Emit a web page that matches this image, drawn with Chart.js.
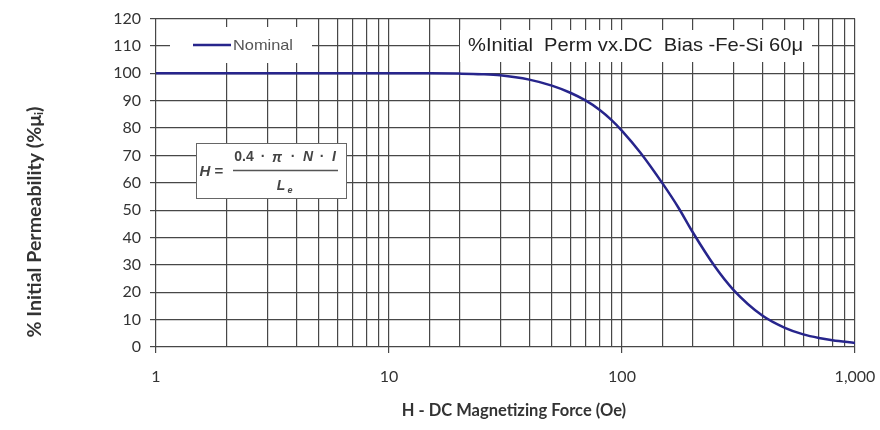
<!DOCTYPE html>
<html>
<head>
<meta charset="utf-8">
<script src="https://cdn.jsdelivr.net/npm/chart.js@4.4.0/dist/chart.umd.min.js"></script>
<style>
  html, body { margin: 0; padding: 0; background: #fff; }
  #wrap { width: 880px; height: 430px; }
</style>
</head>
<body>
<div id="wrap"><canvas id="permChart" width="880" height="430"></canvas></div>
<script>
// H (Oe) and % initial permeability
const fieldOe = [1, 2, 3, 5, 7, 10, 15, 20, 25, 30, 40, 50, 60, 70, 80, 90, 100, 120, 150, 175, 200, 250, 300, 400, 500, 600, 700, 800, 1000];
const permPct = [100, 100, 100, 100, 100, 100, 100, 99.9, 99.7, 99.3, 97.7, 95.5, 92.9, 90, 86.7, 83, 79, 71, 59.5, 50.8, 42.3, 29.5, 21, 11.5, 7, 4.6, 3.3, 2.5, 1.5];
const seriesName = 'Nominal';
const chartTitle = '%Initial  Perm vx.DC  Bias -Fe-Si 60\u03bc';
const xTitle = 'H - DC Magnetizing Force (Oe)';
const yTitle = '% Initial Permeability (%\u03bc';
const yTicks = [0, 10, 20, 30, 40, 50, 60, 70, 80, 90, 100, 110, 120];

const GRID = '#474747';
const LINE = '#27258c';
const TICK_FONT = { family: 'Lato', size: 16 };

function isDecade(v) {
    const l = Math.log10(v);
    return Math.abs(l - Math.round(l)) < 1e-9;
}

// draw text stretched to a given width
function fitText(ctx, text, x, y, width) {
    const w = ctx.measureText(text).width;
    ctx.save();
    ctx.translate(x, y);
    ctx.scale(width / w, 1);
    ctx.fillText(text, 0, 0);
    ctx.restore();
}

const overlays = {
    id: 'overlays',
    afterDatasetsDraw(chart) {
        const ctx = chart.ctx;
        ctx.save();
        ctx.textBaseline = 'middle';
        ctx.textAlign = 'left';

        // legend box
        ctx.fillStyle = '#fff';
        ctx.fillRect(170, 27, 142, 36);
        ctx.strokeStyle = chart.data.datasets[0].borderColor;
        ctx.lineWidth = 2.5;
        ctx.beginPath();
        ctx.moveTo(193, 45);
        ctx.lineTo(231, 45);
        ctx.stroke();
        ctx.fillStyle = '#555';
        ctx.font = '15px "Liberation Sans", Arial, sans-serif';
        fitText(ctx, chart.data.datasets[0].label, 233, 46, 60);

        // title box
        ctx.fillStyle = '#fff';
        ctx.fillRect(460, 30, 352, 32);
        ctx.fillStyle = '#222';
        ctx.font = '19px "Liberation Sans", Arial, sans-serif';
        fitText(ctx, chartTitle, 468, 46, 335);

        // formula box
        ctx.fillStyle = '#fff';
        ctx.fillRect(196, 143, 150, 55);
        ctx.strokeStyle = '#666';
        ctx.lineWidth = 1;
        ctx.strokeRect(196.5, 143.5, 150, 55);
        ctx.fillStyle = '#444';
        ctx.textAlign = 'center';
        ctx.font = 'italic bold 15px "Liberation Sans", Arial, sans-serif';
        ctx.fillText('H', 205, 172);
        ctx.font = 'bold 15px "Liberation Sans", Arial, sans-serif';
        ctx.fillText('=', 219, 172);
        ctx.strokeStyle = '#555';
        ctx.lineWidth = 1.5;
        ctx.beginPath();
        ctx.moveTo(233, 170.5);
        ctx.lineTo(338, 170.5);
        ctx.stroke();
        ctx.font = 'bold 14px "Liberation Sans", Arial, sans-serif';
        ctx.fillText('0.4', 244, 157);
        ctx.fillText('\u00b7', 263, 157);
        ctx.fillText('\u00b7', 293, 157);
        ctx.fillText('\u00b7', 322, 157);
        ctx.font = 'italic bold 14px "Liberation Sans", Arial, sans-serif';
        ctx.fillText('\u03c0', 277, 158);
        ctx.fillText('N', 308, 157);
        ctx.fillText('I', 334, 157);
        ctx.fillText('L', 281, 186);
        ctx.font = 'italic bold 9px "Liberation Sans", Arial, sans-serif';
        ctx.fillText('e', 290, 191);

        // axis titles
        ctx.fillStyle = '#333';
        ctx.font = 'bold 16.5px Lato, sans-serif';
        ctx.textAlign = 'center';
        ctx.fillText(xTitle, 514, 411);

        ctx.translate(35, 222);
        ctx.rotate(-Math.PI / 2);
        ctx.textAlign = 'left';
        const target = 235;
        ctx.font = 'bold 16px Lato, sans-serif';
        const w16 = ctx.measureText(yTitle + ')').width;
        const size = Math.round(16 * target / (w16 + 6) * 10) / 10;
        ctx.font = 'bold ' + size + 'px Lato, sans-serif';
        const mainW = ctx.measureText(yTitle).width;
        const closeW = ctx.measureText(')').width;
        ctx.font = 'bold ' + (size * 0.6) + 'px Lato, sans-serif';
        const subW = ctx.measureText('i').width;
        const x0 = -(mainW + subW + closeW) / 2;
        ctx.font = 'bold ' + size + 'px Lato, sans-serif';
        ctx.fillText(yTitle, x0, 0);
        ctx.fillText(')', x0 + mainW + subW, 0);
        ctx.font = 'bold ' + (size * 0.6) + 'px Lato, sans-serif';
        ctx.fillText('i', x0 + mainW, 4);

        ctx.restore();
    }
};

new Chart(document.getElementById('permChart'), {
    type: 'line',
    data: {
        datasets: [{
            label: seriesName,
            data: fieldOe.map((h, i) => ({ x: h, y: permPct[i] })),
            borderColor: LINE,
            borderWidth: 2.5,
            pointRadius: 0,
            fill: false,
            cubicInterpolationMode: 'monotone'
        }]
    },
    options: {
        responsive: false,
        animation: false,
        layout: { padding: { top: 18, right: 25, left: 0, bottom: 0 } },
        plugins: {
            legend: { display: false },
            tooltip: { enabled: false }
        },
        scales: {
            x: {
                type: 'logarithmic',
                min: 1,
                max: 1000,
                afterFit: s => { s.height = 83; s.paddingLeft = 0; s.paddingRight = 0; },
                border: { display: false },
                grid: {
                    color: GRID,
                    lineWidth: 1.2,
                    tickLength: 6,
                    tickColor: c => (c.tick && isDecade(c.tick.value)) ? GRID : 'rgba(0,0,0,0)'
                },
                ticks: {
                    autoSkip: false,
                    maxRotation: 0,
                    padding: 14,
                    color: '#333',
                    font: TICK_FONT,
                    callback: v => isDecade(v) ? Number(v).toLocaleString('en-US') : ''
                }
            },
            y: {
                min: 0,
                max: 120,
                afterFit: s => { s.width = 156; },
                afterBuildTicks: s => { s.ticks = yTicks.map(v => ({ value: v })); },
                border: { display: false },
                grid: { color: GRID, lineWidth: 1.2, tickLength: 6 },
                ticks: {
                    padding: 9,
                    color: '#333',
                    font: TICK_FONT
                }
            }
        }
    },
    plugins: [overlays]
});
</script>
</body>
</html>
